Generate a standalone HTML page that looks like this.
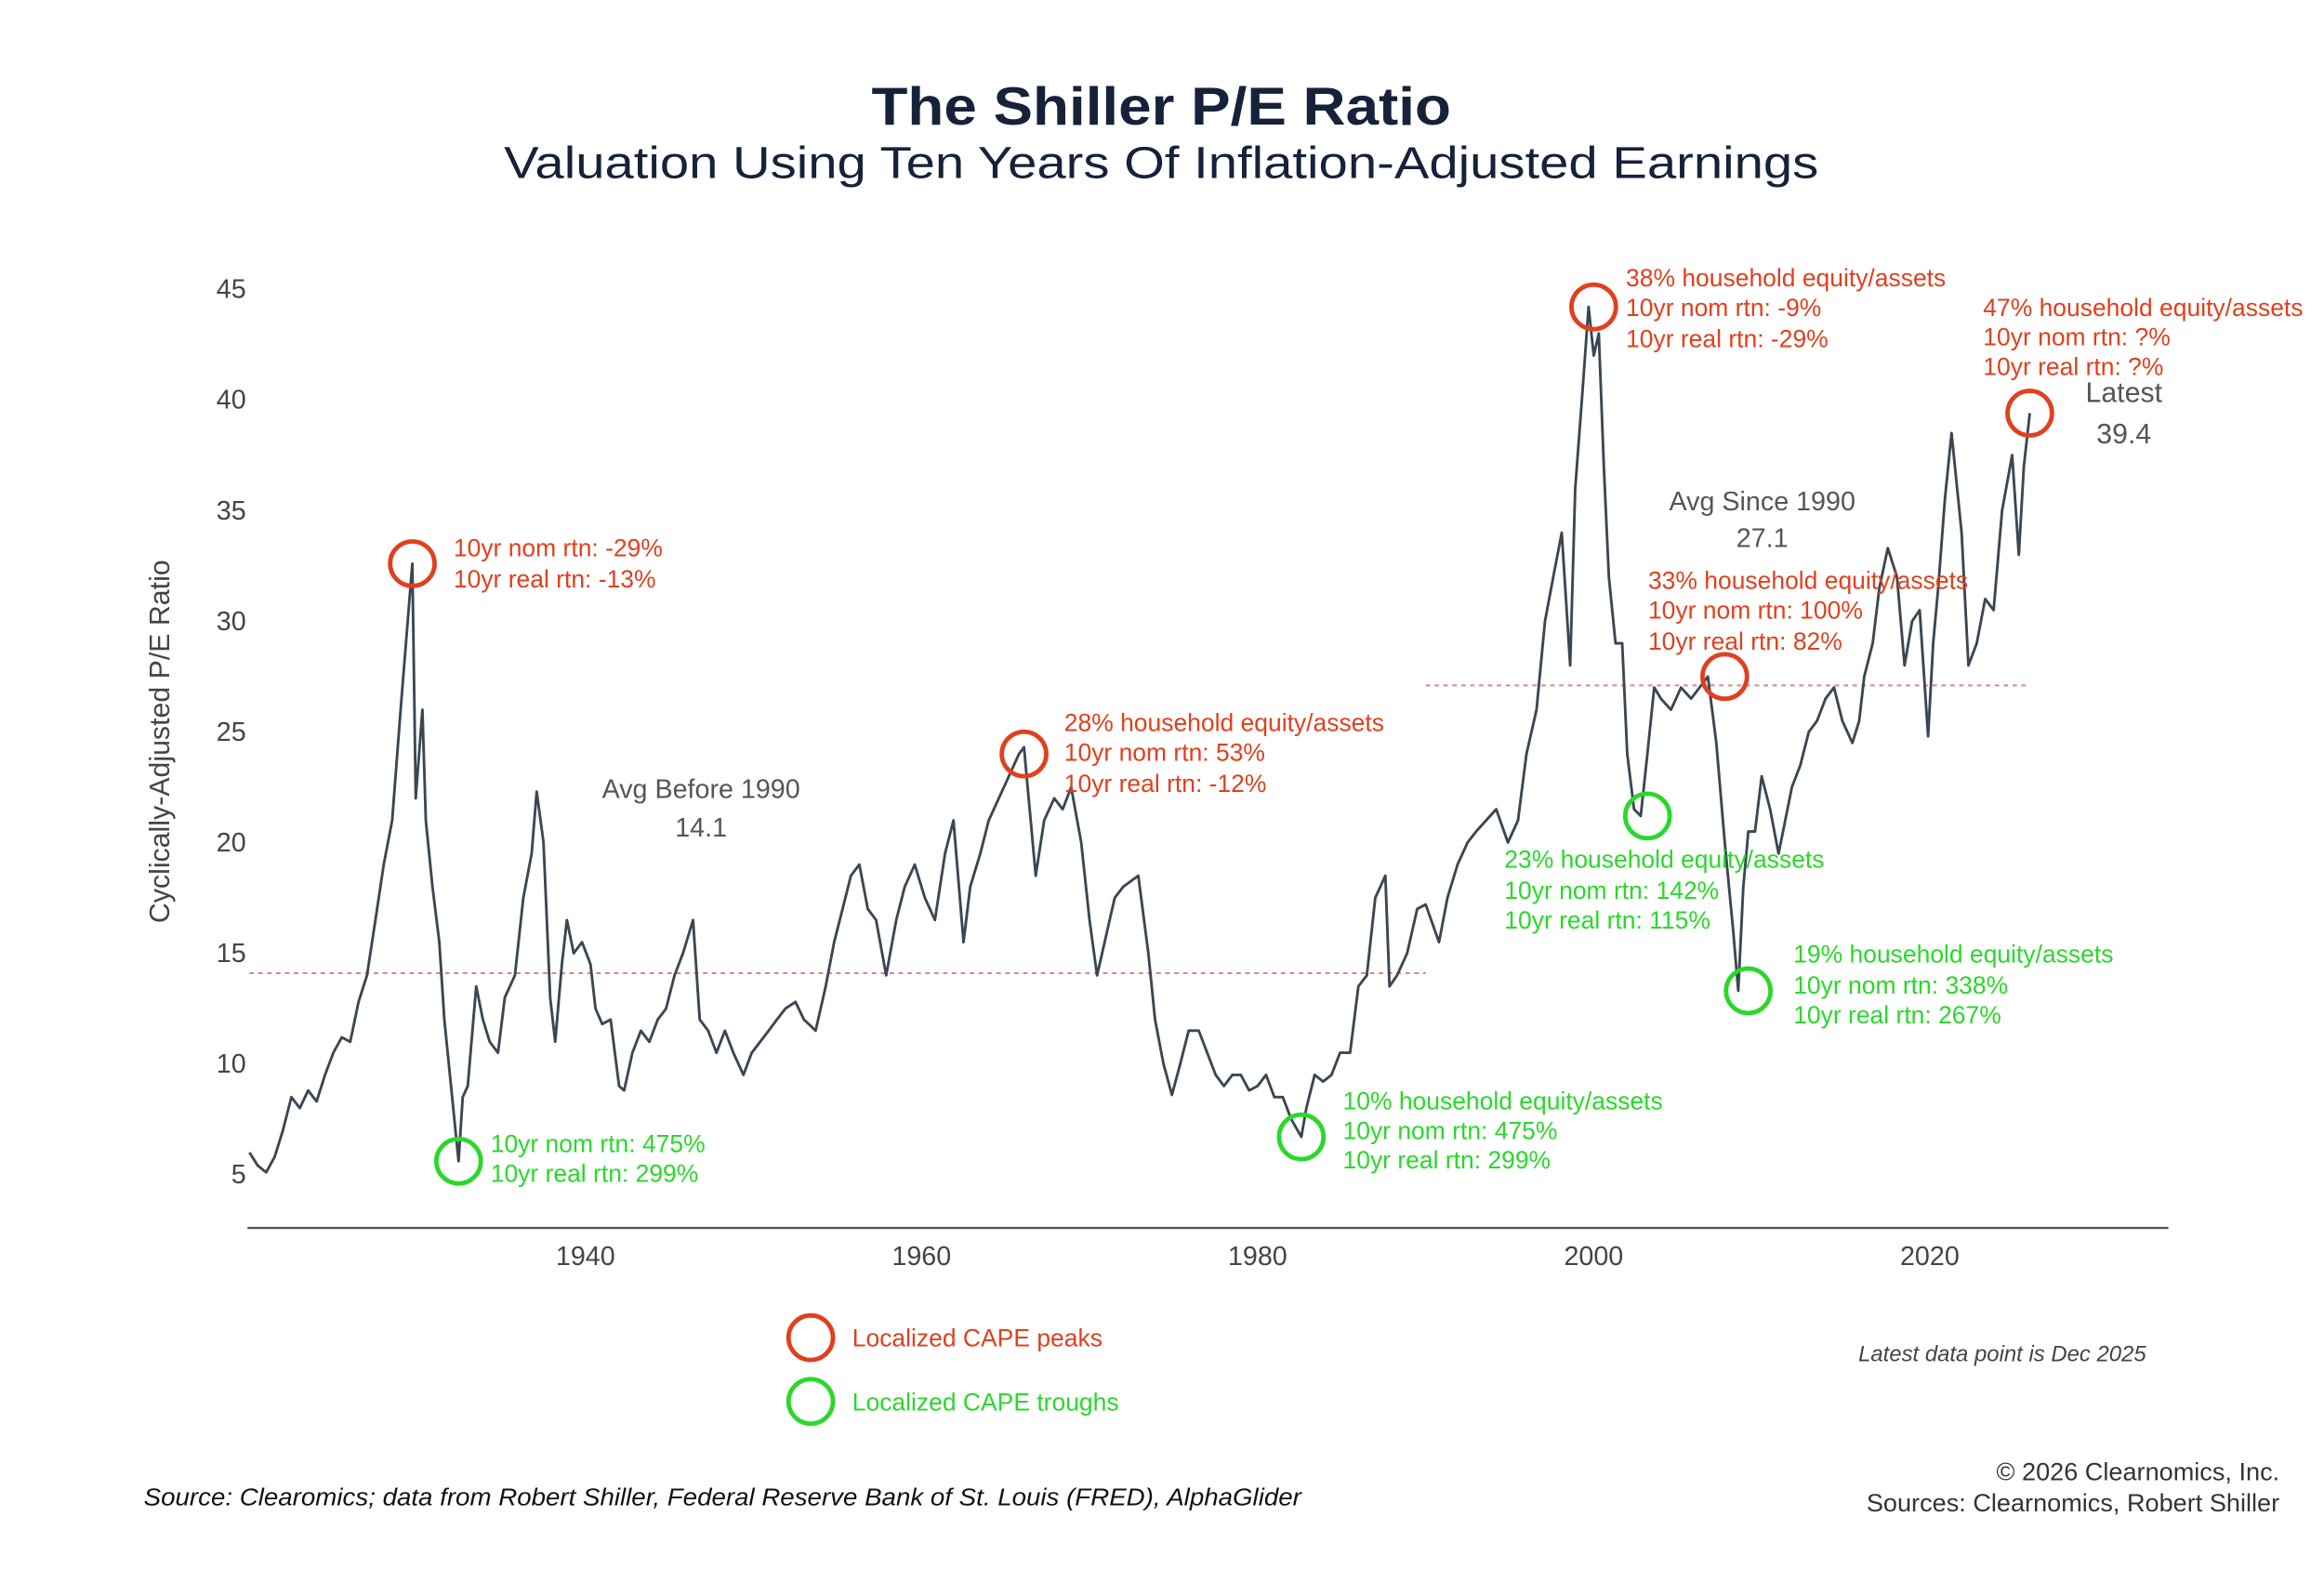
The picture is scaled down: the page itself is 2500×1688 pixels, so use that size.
<!DOCTYPE html>
<html><head><meta charset="utf-8">
<style>
html,body{margin:0;padding:0;background:#fff;}
svg{display:block;}
text{font-family:"Liberation Sans",sans-serif;}
</style></head>
<body>
<svg id="chart" width="2500" height="1688" viewBox="0 0 1568 1058" preserveAspectRatio="none" xmlns="http://www.w3.org/2000/svg">
<rect width="1568" height="1058" fill="#fff"/>
<text x="588" y="84" textLength="391" lengthAdjust="spacingAndGlyphs" font-size="36" font-weight="bold" fill="#16213a">The Shiller P/E Ratio</text>
<text x="340" y="120" textLength="887" lengthAdjust="spacingAndGlyphs" font-size="30" fill="#16213a">Valuation Using Ten Years Of Inflation-Adjusted Earnings</text>
<text transform="translate(114,500) rotate(-90)" text-anchor="middle" font-size="19" fill="#444">Cyclically-Adjusted P/E Ratio</text>
<g id="yticks"></g>
<g id="xticks"></g>
<line x1="167" y1="828" x2="1463" y2="828" stroke="#555" stroke-width="1.5"/>
<g id="avglines"></g>
<path id="series" fill="none" stroke="#3a4753" stroke-width="1.8" stroke-linejoin="round"/>
<g id="circles"></g>
<g font-size="16.6">
<text fill="#e0401e" x="306" y="375">10yr nom rtn: -29%</text>
<text fill="#e0401e" x="306" y="396">10yr real rtn: -13%</text>
<text fill="#2ad82a" x="331" y="777">10yr nom rtn: 475%</text>
<text fill="#2ad82a" x="331" y="797">10yr real rtn: 299%</text>
<text fill="#e0401e" x="718" y="493">28% household equity/assets</text>
<text fill="#e0401e" x="718" y="513">10yr nom rtn: 53%</text>
<text fill="#e0401e" x="718" y="534">10yr real rtn: -12%</text>
<text fill="#2ad82a" x="906" y="748">10% household equity/assets</text>
<text fill="#2ad82a" x="906" y="768">10yr nom rtn: 475%</text>
<text fill="#2ad82a" x="906" y="788">10yr real rtn: 299%</text>
<text fill="#e0401e" x="1097" y="193">38% household equity/assets</text>
<text fill="#e0401e" x="1097" y="213">10yr nom rtn: -9%</text>
<text fill="#e0401e" x="1097" y="234">10yr real rtn: -29%</text>
<text fill="#e0401e" x="1338" y="213">47% household equity/assets</text>
<text fill="#e0401e" x="1338" y="233">10yr nom rtn: ?%</text>
<text fill="#e0401e" x="1338" y="253">10yr real rtn: ?%</text>
<text fill="#e0401e" x="1112" y="397">33% household equity/assets</text>
<text fill="#e0401e" x="1112" y="417">10yr nom rtn: 100%</text>
<text fill="#e0401e" x="1112" y="438">10yr real rtn: 82%</text>
<text fill="#2ad82a" x="1015" y="585">23% household equity/assets</text>
<text fill="#2ad82a" x="1015" y="606">10yr nom rtn: 142%</text>
<text fill="#2ad82a" x="1015" y="626">10yr real rtn: 115%</text>
<text fill="#2ad82a" x="1210" y="649">19% household equity/assets</text>
<text fill="#2ad82a" x="1210" y="670">10yr nom rtn: 338%</text>
<text fill="#2ad82a" x="1210" y="690">10yr real rtn: 267%</text>
</g>
<g font-size="18" fill="#555" text-anchor="middle">
<text x="473" y="538">Avg Before 1990</text>
<text x="473" y="564">14.1</text>
<text x="1189" y="344">Avg Since 1990</text>
<text x="1189" y="369">27.1</text>
<text x="1433" y="271" font-size="19">Latest</text>
<text x="1433" y="299" font-size="19">39.4</text>
</g>
<g>
<circle cx="547" cy="902" r="15" fill="none" stroke="#e0401e" stroke-width="3"/>
<text x="575" y="908" font-size="16.6" fill="#e0401e">Localized CAPE peaks</text>
<circle cx="547" cy="945" r="15" fill="none" stroke="#2ad82a" stroke-width="3"/>
<text x="575" y="951" font-size="16.6" fill="#2ad82a">Localized CAPE troughs</text>
</g>
<text x="1448" y="918" text-anchor="end" font-size="15" font-style="italic" fill="#444">Latest data point is Dec 2025</text>
<text x="97" y="1015" textLength="781" lengthAdjust="spacingAndGlyphs" font-size="16" font-style="italic" fill="#111">Source: Clearomics; data from Robert Shiller, Federal Reserve Bank of St. Louis (FRED), AlphaGlider</text>
<text x="1538" y="998" text-anchor="end" font-size="17" fill="#333">© 2026 Clearnomics, Inc.</text>
<text x="1538" y="1019" text-anchor="end" font-size="17" fill="#333">Sources: Clearnomics, Robert Shiller</text>
</svg>
<script>
const years=[1920,1920.5,1921,1921.5,1922,1922.5,1923,1923.5,1924,1924.5,1925,1925.5,1926,1926.5,1927,1927.5,1928,1928.5,1929,1929.7,1929.9,1930.3,1930.5,1930.9,1931.3,1931.6,1932,1932.45,1932.7,1933,1933.5,1933.9,1934.3,1934.8,1935.2,1935.8,1936.3,1936.8,1937.1,1937.5,1937.9,1938.2,1938.6,1938.9,1939.3,1939.8,1940.3,1940.6,1941,1941.5,1942,1942.3,1942.8,1943.3,1943.8,1944.3,1944.8,1945.3,1945.8,1946.4,1946.8,1947.3,1947.8,1948.3,1948.8,1949.4,1949.9,1950.4,1950.9,1951.4,1951.9,1952.5,1953,1953.7,1954.3,1954.8,1955.3,1955.8,1956.3,1956.8,1957.3,1957.9,1958.5,1959,1959.6,1960.2,1960.8,1961.4,1961.9,1962.5,1962.9,1963.5,1964,1964.6,1965.2,1965.8,1966.1,1966.5,1966.8,1967.3,1967.9,1968.4,1968.9,1969.5,1970,1970.45,1970.9,1971.5,1972,1972.9,1973.5,1973.9,1974.4,1974.9,1975.4,1975.9,1976.5,1977,1977.5,1978,1978.5,1979,1979.5,1980,1980.5,1981,1981.5,1982,1982.6,1982.9,1983.4,1983.9,1984.4,1984.9,1985.5,1986,1986.5,1987,1987.6,1987.85,1988.3,1988.9,1989.5,1990,1990.8,1991.3,1991.9,1992.5,1993,1993.6,1994.2,1994.9,1995.5,1996,1996.6,1997.1,1997.6,1998.1,1998.6,1998.9,1999.3,1999.7,2000,2000.3,2000.6,2000.9,2001.3,2001.7,2002,2002.4,2002.8,2003.2,2003.6,2004,2004.6,2005.2,2005.8,2006.3,2006.8,2007.3,2007.8,2008.3,2008.6,2008.9,2009.2,2009.6,2010,2010.5,2011,2011.4,2011.8,2012.3,2012.8,2013.3,2013.8,2014.3,2014.8,2015.4,2015.8,2016.1,2016.6,2017,2017.5,2018.05,2018.5,2018.95,2019.4,2019.9,2020.2,2020.5,2020.9,2021.3,2021.9,2022.3,2022.8,2023.3,2023.8,2024.3,2024.9,2025.3,2025.6,2025.95];
const values=[6,5.4,5.1,5.8,7,8.5,8,8.8,8.3,9.5,10.5,11.2,11,12.8,14,16.5,19,21,26,32.6,22,26,21,18,15.5,12,9,5.6,8.5,9,13.5,12,11,10.5,13,14,17.5,19.5,22.3,20,13,11,14.5,16.5,15,15.5,14.5,12.5,11.8,12,9,8.8,10.5,11.5,11,12,12.5,14,15,16.5,12,11.5,10.5,11.5,10.5,9.5,10.5,11,11.5,12,12.5,12.8,12,11.5,13.5,15.5,17,18.5,19,17,16.5,14,16.5,18,19,17.5,16.5,19.5,21,15.5,18,19.5,21,22,23,24,24.3,21,18.5,21,22,21.5,22.5,20,16.5,14,15.5,17.5,18,18.5,15,12,10,8.6,10,11.5,11.5,10.5,9.5,9,9.5,9.5,8.8,9,9.5,8.5,8.5,7.5,6.7,8,9.5,9.2,9.5,10.5,10.5,13.5,14,17.5,18.5,13.5,14,15,17,17.2,15.5,17.5,19,20,20.5,21,21.5,20,21,24,26,30,32,34,28,36,40,44.2,42,43,37,32,29,29,24,21.5,21.2,24,27,26.5,26,27,26.5,27,27.5,24.5,20,16,13.3,18,20.5,20.5,23,21.5,19.5,21,22.5,23.5,25,25.5,26.5,27,25.5,24.5,25.5,27.5,29,31.5,33.3,32,28,30,30.5,24.8,29,31.5,35.5,38.5,34,28,29,31,30.5,35,37.5,33,37,39.4];
const peakYears=[1929.7,1966.1,2000,2007.8,2025.95];
const peakValues=[32.6,24,44.2,27.5,39.4];
const troughYears=[1932.45,1982.6,2003.2,2009.2];
const troughValues=[5.6,6.7,21.2,13.3];
const avgPeriods=[[1920,1990],[1990,2026]];
const avgValues=[14.1,27.1];
const yTicks=[5,10,15,20,25,30,35,40,45];
const xTicks=[1940,1960,1980,2000,2020];

const X=y=>395+(y-1940)*(1302-395)/80;
const Y=v=>792-(v-5)*(792-195)/40;
const NS='http://www.w3.org/2000/svg';
function mk(tag,attrs,parent,txt){const e=document.createElementNS(NS,tag);for(const k in attrs)e.setAttribute(k,attrs[k]);if(txt!==undefined)e.textContent=txt;parent.appendChild(e);return e;}
const yt=document.getElementById('yticks');
yTicks.forEach(t=>{const e=mk('text',{x:166,y:Y(t)+6,'text-anchor':'end','font-size':18,fill:'#444'},yt,String(t));

});
const xt=document.getElementById('xticks');
xTicks.forEach(t=>{const e=mk('text',{x:X(t),y:853,'text-anchor':'middle','font-size':18,fill:'#444'},xt,String(t));

});
const al=document.getElementById('avglines');
avgPeriods.forEach((p,i)=>{const e=mk('line',{x1:X(p[0]),x2:X(p[1]),y1:Y(avgValues[i]),y2:Y(avgValues[i]),stroke:'#d9868a','stroke-width':1.3,'stroke-dasharray':'3,3'},al);

});
document.getElementById('series').setAttribute('d',years.map((y,i)=>(i?'L':'M')+X(y).toFixed(1)+','+Y(values[i]).toFixed(1)).join(''));
const cg=document.getElementById('circles');
peakYears.forEach((y,i)=>{const e=mk('circle',{cx:X(y),cy:Y(peakValues[i]),r:15,fill:'none',stroke:'#e0401e','stroke-width':3},cg);

});
troughYears.forEach((y,i)=>{const e=mk('circle',{cx:X(y),cy:Y(troughValues[i]),r:15,fill:'none',stroke:'#2ad82a','stroke-width':3},cg);

});
</script>
</body></html>
